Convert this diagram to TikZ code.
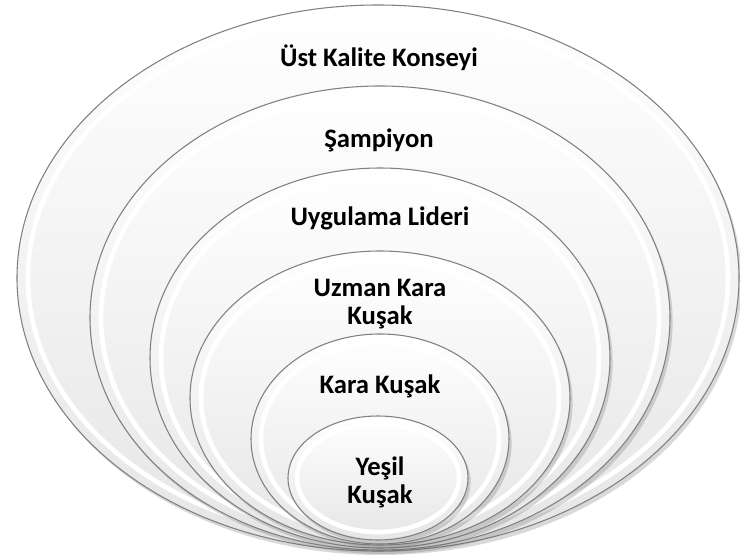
\documentclass[tikz,border=0pt]{standalone}
\usepackage{fontspec}
\setmainfont{Carlito}
\usetikzlibrary{shadows}
\begin{document}
\begin{tikzpicture}[x=0.75pt, y=0.75pt, line join=round, line cap=round,
		ring/.style={draw=black!50, line width=0.8pt, top color=white, bottom color=black!10,
			drop shadow={shadow xshift=2pt, shadow yshift=-3pt, opacity=0.25, fill=black!60}},
		band/.style={draw=white, line width=3.5pt},
		lbl/.style={font=\fontsize{20}{21}\selectfont\bfseries, align=center, inner sep=0pt}]
			\useasboundingbox (0,0) rectangle (740,558);
			% rings, outermost first
			\draw[ring] (378,280) ellipse [x radius=361, y radius=273];
			\draw[band] (378,280) ellipse [x radius=350, y radius=263];
			\draw[ring] (380,240) ellipse [x radius=290, y radius=232];
			\draw[band] (380,240) ellipse [x radius=279, y radius=222];
			\draw[ring] (380,200) ellipse [x radius=230, y radius=190];
			\draw[band] (380,200) ellipse [x radius=219, y radius=180];
			\draw[ring] (380,160) ellipse [x radius=190, y radius=147];
			\draw[band] (380,160) ellipse [x radius=179, y radius=137];
			\draw[ring] (380,119) ellipse [x radius=129, y radius=105];
			\draw[band] (380,119) ellipse [x radius=119, y radius=96];
			\draw[ring] (378,80) ellipse [x radius=90, y radius=62];
			\draw[band] (378,80) ellipse [x radius=81, y radius=54];
			% labels
			\node[lbl] (konsey) at (379,500) {Üst Kalite Konseyi};
			\node[lbl] (sampiyon) at (379,418) {Şampiyon};
			\node[lbl] (lider) at (380,340) {Uygulama Lideri};
			\node[lbl] (uzman) at (380,254) {Uzman Kara\\Kuşak};
			\node[lbl] (kara) at (380,172) {Kara Kuşak};
			\node[lbl] (yesil) at (380,76) {Yeşil\\Kuşak};
		\end{tikzpicture}
\end{document}
